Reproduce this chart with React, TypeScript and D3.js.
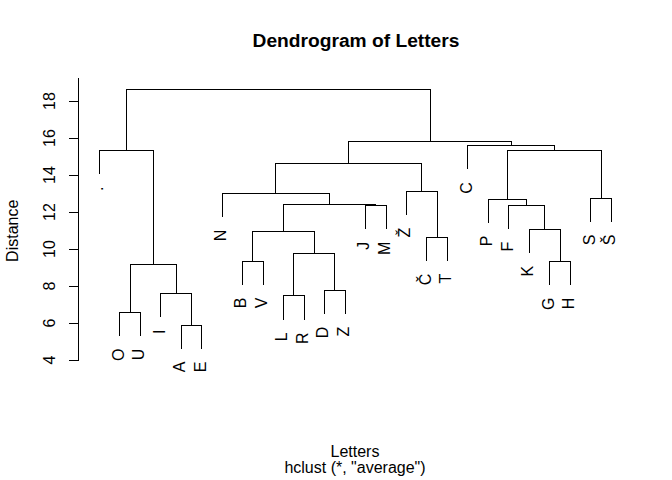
// Dendrogram of letters, hclust "average" style, drawn with d3 via ref

import React, { useRef, useEffect } from 'react';
import * as d3 from 'd3';

const leafLabels = ['.', 'O', 'U', 'I', 'A', 'E', 'N', 'B', 'V', 'L', 'R', 'D', 'Z',
  'J', 'M', 'Ž', 'Č', 'T', 'C', 'P', 'F', 'K', 'G', 'H', 'S', 'Š'];

// R-style merge matrix: negative = leaf (1-based), positive = earlier merge
const mergeLeft = [-5, -2, -10, -4, -12, 2, -8, -23, 3, -17, 7, -22, -21, -14, 11, -20, -25, -7, -16, 18, 16, -1, -19, 20, 22];
const mergeRight = [-6, -3, -11, 1, -13, 4, -9, -24, 5, -18, 9, 8, 12, -15, 14, 13, -26, 15, 10, 19, 17, 6, 21, 23, 24];
const mergeHeight = [5.88, 6.58, 7.46, 7.61, 7.77, 9.17, 9.34, 9.34, 9.77, 10.63, 10.96, 11.06, 12.36, 12.36, 12.42,
  12.69, 12.74, 13.01, 13.12, 14.63, 15.31, 15.34, 15.58, 15.8, 18.63];

const yTicks = [4, 6, 8, 10, 12, 14, 16, 18];
const yTop = 19.24;

const FONT = '"Liberation Sans", Arial, sans-serif';

export default function App() {
  const svgRef = useRef<SVGSVGElement>(null);

  useEffect(() => {
    if (!svgRef.current) return;
    const svg = d3.select(svgRef.current);
    svg.selectAll('*').remove();

    const width = 672;
    const height = 480;
    svg.attr('width', width).attr('height', height);

    const x = d3.scaleLinear().domain([1, leafLabels.length]).range([99.3, 611.3]);
    const y = d3.scaleLinear().domain([4, 18]).range([360, 101]);

    const hang = 0.1 * (d3.max(mergeHeight)! - d3.min(mergeHeight)!);

    // positions of each merge node
    const nodeX: number[] = [];
    const g = svg.append('g')
      .attr('fill', 'none')
      .attr('stroke', '#000')
      .attr('stroke-width', 1)
      .attr('shape-rendering', 'crispEdges');

    const leafBottoms: { i: number; h: number }[] = [];

    const childPos = (c: number, parentH: number) => {
      if (c < 0) {
        const i = -c;
        leafBottoms.push({ i, h: parentH - hang });
        return { cx: x(i), cy: parentH - hang };
      }
      return { cx: nodeX[c - 1], cy: mergeHeight[c - 1] };
    };

    mergeHeight.forEach((h, k) => {
      const a = childPos(mergeLeft[k], h);
      const b = childPos(mergeRight[k], h);
      nodeX[k] = (a.cx + b.cx) / 2;
      const path = d3.path();
      path.moveTo(a.cx, y(a.cy));
      path.lineTo(a.cx, y(h));
      path.lineTo(b.cx, y(h));
      path.lineTo(b.cx, y(b.cy));
      g.append('path').attr('d', path.toString());
    });

    // leaf labels, rotated like R's srt = 90
    svg.append('g')
      .selectAll('text')
      .data(leafBottoms)
      .join('text')
      .attr('transform', d => `translate(${x(d.i) + 3.8}, ${y(d.h) + 12.8}) rotate(-90)`)
      .attr('text-anchor', 'end')
      .attr('font-family', FONT)
      .attr('font-size', 16)
      .attr('fill', '#000')
      .text(d => leafLabels[d.i - 1]);

    // y axis
    const ax = svg.append('g')
      .attr('stroke', '#000')
      .attr('shape-rendering', 'crispEdges');
    ax.append('line')
      .attr('x1', 78.5).attr('x2', 78.5)
      .attr('y1', y(yTop)).attr('y2', y(4));
    ax.selectAll('.tick')
      .data(yTicks)
      .join('line')
      .attr('class', 'tick')
      .attr('x1', 69).attr('x2', 78.5)
      .attr('y1', d => y(d)).attr('y2', d => y(d));

    svg.append('g')
      .selectAll('text')
      .data(yTicks)
      .join('text')
      .attr('transform', d => `translate(55, ${y(d)}) rotate(-90)`)
      .attr('text-anchor', 'middle')
      .attr('font-family', FONT)
      .attr('font-size', 16)
      .text(d => d);

    // titles
    svg.append('text')
      .attr('x', 356).attr('y', 46.7)
      .attr('text-anchor', 'middle')
      .attr('font-family', FONT)
      .attr('font-size', 19.2)
      .attr('font-weight', 'bold')
      .text('Dendrogram of Letters');

    svg.append('text')
      .attr('x', 355).attr('y', 456.7)
      .attr('text-anchor', 'middle')
      .attr('font-family', FONT)
      .attr('font-size', 16)
      .text('Letters');

    svg.append('text')
      .attr('x', 355).attr('y', 473)
      .attr('text-anchor', 'middle')
      .attr('font-family', FONT)
      .attr('font-size', 16)
      .text('hclust (*, "average")');

    svg.append('text')
      .attr('transform', 'translate(18.3, 230.8) rotate(-90)')
      .attr('text-anchor', 'middle')
      .attr('font-family', FONT)
      .attr('font-size', 16)
      .text('Distance');
  }, []);

  return (
    <svg ref={svgRef} style={{ position: 'absolute', left: 0, top: 0, background: '#fff' }} />
  );
}
